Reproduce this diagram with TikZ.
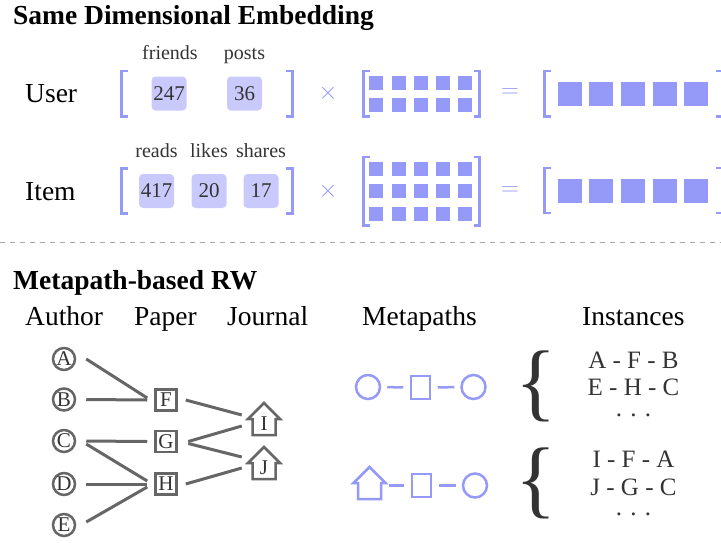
\documentclass[tikz,border=0pt]{standalone}
\usepackage{fontspec}
\setmainfont{Liberation Serif}
\usetikzlibrary{positioning}
\definecolor{peri}{HTML}{9599F7}
\definecolor{perilight}{HTML}{C9CAFB}
\definecolor{graphgray}{HTML}{666666}
\definecolor{textgray}{HTML}{333333}
\tikzstyle{heading} = [inner sep=0pt, anchor=base west, font=\fontsize{27.5}{30}\selectfont\bfseries]
\tikzstyle{colhead} = [inner sep=0pt, anchor=base west, font=\fontsize{27.5}{30}\selectfont]
\tikzstyle{feat} = [inner sep=0pt, anchor=base, text=textgray, font=\fontsize{20}{24}\selectfont]
\tikzstyle{valbox} = [rectangle, rounded corners=4pt, fill=perilight, minimum width=35pt, minimum height=34pt, inner sep=0pt, text=textgray, font=\fontsize{21}{24}\selectfont]
\tikzstyle{op} = [inner sep=0pt, text=peri, font=\fontsize{25}{28}\selectfont]
\tikzstyle{bracket} = [draw=peri, line width=2.5pt]
\tikzstyle{cellsm} = [rectangle, fill=peri, minimum size=14pt, inner sep=0pt]
\tikzstyle{cellbig} = [rectangle, fill=peri, minimum size=24pt, inner sep=0pt]
\tikzstyle{author} = [circle, draw=graphgray, line width=2.5pt, minimum size=22pt, inner sep=0pt, text=textgray, font=\fontsize{21}{22}\selectfont]
\tikzstyle{paper} = [rectangle, draw=graphgray, line width=2.5pt, minimum size=21pt, inner sep=0pt, text=textgray, font=\fontsize{21}{22}\selectfont]
\tikzstyle{journal} = [rectangle, minimum width=32pt, minimum height=24pt, inner sep=0pt, text=textgray, font=\fontsize{21}{22}\selectfont]
\tikzstyle{line} = [draw=graphgray, line width=3pt]
\tikzstyle{mcirc} = [circle, draw=peri, line width=2.5pt, minimum size=24pt, inner sep=0pt]
\tikzstyle{mrect} = [rectangle, draw=peri, line width=2.5pt, minimum width=19pt, minimum height=23pt, inner sep=0pt]
\tikzstyle{mhouse} = [rectangle, minimum width=32pt, minimum height=24pt, inner sep=0pt]
\tikzstyle{mline} = [draw=peri, line width=2.5pt]
\tikzstyle{inst} = [inner sep=0pt, anchor=base, text=textgray, font=\fontsize{25}{27}\selectfont]
\tikzstyle{curly} = [inner sep=0pt, anchor=base, text=textgray, font=\fontsize{86}{90}\selectfont]
\tikzset{pics/house/.style={code={
  \draw[line width=2.5pt, #1] (-16,-5) -- (0,-21) -- (16,-5) -- (11.5,-5) -- (11.5,11) -- (-11.5,11) -- (-11.5,-5) -- cycle;
}}}

\begin{document}
\begin{tikzpicture}[x=1pt, y=-1pt]
	\useasboundingbox (0,0) rectangle (721,542);
	\clip (0,0) rectangle (721,542);

	% same dimensional embedding
	\node [heading] (title1) at (13,24) {Same Dimensional Embedding};
	\node [colhead] (user) at (25,102) {User};
	\node [colhead] (item) at (25,200) {Item};

	\node [feat] (friends) at (170,59) {friends};
	\node [feat] (posts) at (244.5,59) {posts};
	\node [feat] (reads) at (156.5,157) {reads};
	\node [feat] (likes) at (209,157) {likes};
	\node [feat] (shares) at (261,157) {shares};

	\node [valbox] (v247) at (169,93.5) {247};
	\node [valbox] (v36) at (244.5,93.5) {36};
	\node [valbox] (v417) at (156.5,191) {417};
	\node [valbox] (v20) at (209,191) {20};
	\node [valbox] (v17) at (261,191) {17};

	\path [bracket] (128,71) -- (121.5,71) -- (121.5,116.5) -- (128,116.5);
	\path [bracket] (286,71) -- (292.5,71) -- (292.5,116.5) -- (286,116.5);
	\path [bracket] (128,168.5) -- (121.5,168.5) -- (121.5,213.5) -- (128,213.5);
	\path [bracket] (286,168.5) -- (292.5,168.5) -- (292.5,213.5) -- (286,213.5);

	\node [op] (times1) at (328,93) {$\times$};
	\node [op] (times2) at (328,191) {$\times$};

	\path [bracket] (369.5,71) -- (363.5,71) -- (363.5,116.5) -- (369.5,116.5);
	\path [bracket] (473.5,71) -- (479.5,71) -- (479.5,116.5) -- (473.5,116.5);
	\path [bracket] (369.5,157) -- (363.5,157) -- (363.5,225.5) -- (369.5,225.5);
	\path [bracket] (473.5,157) -- (479.5,157) -- (479.5,225.5) -- (473.5,225.5);
	\foreach \c in {0,...,4} {
		\foreach \r in {0,1}
			\node [cellsm] (uw-\r-\c) at (376.3+22.2*\c, 82.7+22*\r) {};
		\foreach \r in {0,1,2}
			\node [cellsm] (iw-\r-\c) at (376.3+22.2*\c, 169+22.3*\r) {};
	}

	\node [op] (eq1) at (510,93) {$=$};
	\node [op] (eq2) at (510,191) {$=$};

	\path [bracket] (551,71) -- (544.5,71) -- (544.5,116.5) -- (551,116.5);
	\path [bracket] (716,71) -- (723,71) -- (723,116.5) -- (716,116.5);
	\path [bracket] (551,168) -- (544.5,168) -- (544.5,213) -- (551,213);
	\path [bracket] (716,168) -- (723,168) -- (723,213) -- (716,213);
	\foreach \c in {0,...,4} {
		\node [cellbig] (ue-\c) at (569.7+31.6*\c, 93.7) {};
		\node [cellbig] (ie-\c) at (569.7+31.6*\c, 191) {};
	}

	\draw [draw=black!35, line width=1pt, dash pattern=on 5pt off 5pt] (0,242.5) -- (721,242.5);

	% metapath-based random walk
	\node [heading] (title2) at (13,289) {Metapath-based RW};
	\node [colhead] (hauthor) at (25,325) {Author};
	\node [colhead] (hpaper) at (134,325) {Paper};
	\node [colhead] (hjournal) at (227,325) {Journal};
	\node [colhead] (hmeta) at (362,325) {Metapaths};
	\node [colhead] (hinst) at (582,325) {Instances};

	\node [author] (A) at (64,359) {A};
	\node [author] (B) at (64,399.5) {B};
	\node [author] (C) at (64,441) {C};
	\node [author] (D) at (64,484) {D};
	\node [author] (E) at (64,525) {E};
	\node [paper] (F) at (166,400) {F};
	\node [paper] (G) at (166,441.5) {G};
	\node [paper] (H) at (166,484) {H};
	\pic at (264,424) {house=graphgray};
	\pic at (264,468) {house=graphgray};
	\node [journal] (I) at (264,424) {I};
	\node [journal] (J) at (264,468) {J};

	\path [line] ([xshift=10pt]A.east) -- ([xshift=-7pt,yshift=2pt]F.west);
	\path [line] ([xshift=10pt]B.east) -- ([xshift=-7pt]F.west);
	\path [line] ([xshift=10pt]C.east) -- ([xshift=-7pt]G.west);
	\path [line] ([xshift=10pt,yshift=-3pt]C.east) -- ([xshift=-7pt,yshift=3pt]H.west);
	\path [line] ([xshift=10pt]D.east) -- ([xshift=-7pt]H.west);
	\path [line] ([xshift=10pt,yshift=3pt]E.east) -- ([xshift=-7pt,yshift=-3pt]H.west);
	\path [line] ([xshift=8pt]F.east) -- ([xshift=-6pt,yshift=9pt]I.west);
	\path [line] ([xshift=10.5pt]G.east) -- ([xshift=-6pt,yshift=-2pt]I.west);
	\path [line] ([xshift=10.5pt,yshift=-2pt]G.east) -- ([xshift=-6pt,yshift=11pt]J.west);
	\path [line] ([xshift=8pt]H.east) -- ([xshift=-6pt]J.west);

	\node [mcirc] (m1a) at (368,387) {};
	\node [mrect] (m1b) at (420.5,387.5) {};
	\node [mcirc] (m1c) at (473.5,387) {};
	\path [mline, shorten <=6pt, shorten >=6.5pt] (m1a) -- (m1b);
	\path [mline, shorten <=6.5pt, shorten >=6pt] (m1b) -- (m1c);

	\pic at (369.5,488) {house=peri};
	\node [mhouse] (m2a) at (369.5,488) {};
	\node [mrect] (m2b) at (421.5,485.5) {};
	\node [mcirc] (m2c) at (475,485.5) {};
	\path [mline, shorten <=3.5pt, shorten >=6.5pt] (m2a.east |- m2b) -- (m2b);
	\path [mline, shorten <=6.5pt, shorten >=6pt] (m2b) -- (m2c);

	\node [curly] (brace1) at (536.5,410) {\{};
	\node [curly] (brace2) at (536.5,507.5) {\{};

	\node [inst] (p1) at (633.5,368) {A - F - B};
	\node [inst] (p2) at (633.5,395) {E - H - C};
	\node [inst] (p3) at (633.5,416.5) {. . .};
	\node [inst] (p4) at (633.5,467) {I - F - A};
	\node [inst] (p5) at (633.5,495) {J - G - C};
	\node [inst] (p6) at (633.5,515) {. . .};
\end{tikzpicture}
\end{document}
